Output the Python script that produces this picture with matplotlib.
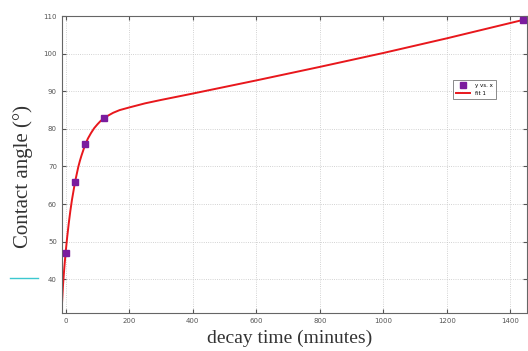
import numpy as np
import matplotlib.pyplot as plt
from matplotlib.lines import Line2D

# measured contact angle vs decay time
t = [0, 30, 60, 120, 1440]
angle = [47, 66, 76, 83, 109]

# fitted curve (fit 1)
fit_t = [-12, -8, -4, 0, 5, 10, 15, 20, 30, 40, 45, 50, 60, 70, 80, 90, 100,
         110, 120, 135, 150, 170, 200, 250, 300, 400, 600, 800, 1000, 1200, 1440]
fit_y = [32.5, 38.6, 43.1, 47.0, 51.2, 54.9, 58.2, 61.1, 66.0, 69.9, 71.5,
         72.9, 75.4, 77.4, 78.9, 80.2, 81.2, 82.1, 82.8, 83.6, 84.3, 85.0,
         85.7, 86.8, 87.7, 89.4, 92.9, 96.5, 100.2, 104.1, 109.0]

xticks = [0, 200, 400, 600, 800, 1000, 1200, 1400]
yticks = [40, 50, 60, 70, 80, 90, 100, 110]

fig = plt.figure(figsize=(5.28, 3.51), dpi=100)
ax = fig.add_axes([0.117, 0.108, 0.881, 0.846])

ax.plot(fit_t, fit_y, color='#e8171c', lw=1.4, label='fit 1', zorder=2)
ax.plot(t, angle, 's', color='#7b1c9e', ms=5, label='y vs. x', zorder=3)

ax.set_xlim(-12, 1452)
ax.set_ylim(31, 110)
ax.set_xticks(xticks)
ax.set_yticks(yticks)
ax.tick_params(labelsize=5, colors='#555555', direction='in', length=3,
               top=True, right=True)
ax.grid(True, ls=':', color='#c4c4c4', lw=0.6)
for s in ax.spines.values():
    s.set_color('#666666')
    s.set_linewidth(0.8)

ax.set_xlabel('decay time (minutes)', family='Liberation Serif', fontsize=14,
              color='#333333')
ax.set_ylabel('Contact angle (°)', family='Liberation Serif', fontsize=15,
              color='#333333')
ax.xaxis.set_label_coords(0.49, -0.055)
ax.yaxis.set_label_coords(-0.062, 0.46)

h, l = ax.get_legend_handles_labels()
leg = ax.legend(h[::-1], l[::-1], loc='upper left', bbox_to_anchor=(0.835, 0.795),
                fontsize=4, frameon=True, fancybox=False, handlelength=2.5,
                borderpad=0.6, labelspacing=0.5, markerscale=0.9)
leg.get_frame().set_edgecolor('#555555')
leg.get_frame().set_linewidth(0.6)

# stray cyan tick at the left margin
fig.add_artist(Line2D([0.019, 0.072], [0.208, 0.208], color='#3cc8d0', lw=1))

fig.savefig('out.png', dpi=100)
